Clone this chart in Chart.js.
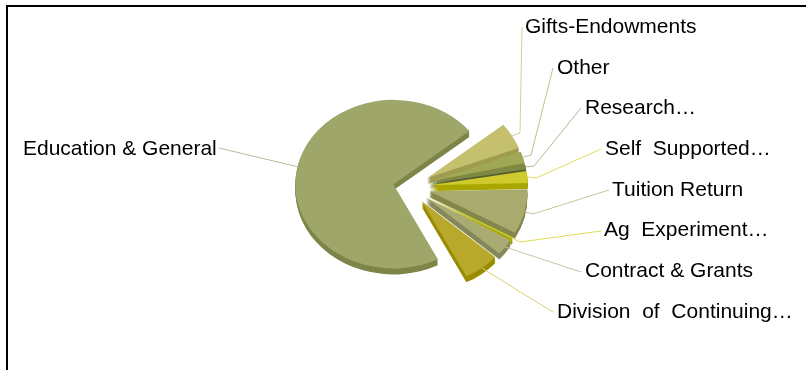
<!DOCTYPE html>
<html>
<head>
<meta charset="utf-8">
<style>html,body{margin:0;padding:0;background:#fff;overflow:hidden}canvas{display:block}</style>
<script src="https://cdn.jsdelivr.net/npm/chart.js@4"></script>
</head>
<body>
<canvas id="c" width="806" height="370"></canvas>
<script>
const categories = ["Education & General","Gifts-Endowments","Other","Research…","Self  Supported…","Tuition Return","Ag  Experiment…","Contract & Grants","Division  of  Continuing…"];
const shares = [72.0,5.1,2.2,0.9,2.3,8.6,0.3,3.1,6.0];

const topColors  = ["#9FA66A","#C4C06E","#A0A856","#7F8A48","#CFCB2E","#A8AA6E","#C8C820","#A8AC72","#B8A82C"];
const sideColors = ["#7E8548","#A09C50","#7F8840","#56602C","#AAA600","#85874C","#A8A600","#84885A","#9A8C00"];
const leaderColors = ["#B8BC98","#D2D09A","#BEC28E","#B4B890","#DEDC60","#C4C69A","#DEDC50","#C4C6A0","#D8D070"];
const explode = [16,21,21,21,21,21,21,21,21];
const labelAnchors = [[23,155],[525,33],[557,74],[585,114],[605,155],[612,196],[604,236],[585,277],[557,318]];
const leaderBends = [[[219,148]],[[520,133],[522,27]],[[531,155],[553,68]],[[534,166],[581,108]],[[536,178],[601,149]],[[533,214],[609,190]],[[520,242],[601,231]],[[581,272]],[[517,290],[553,312]]];

const SQUASH = 0.86, DEPTH = 6, CX = 409, CY = 187;

function place(chart){
  chart.getDatasetMeta(0).data.forEach((a,i)=>{
    const mid=(a.startAngle+a.endAngle)/2;
    a.x=CX+explode[i]*Math.cos(mid);
    a.y=CY+explode[i]*Math.sin(mid);
  });
}
const pie3d = {
  id:'pie3d',
  beforeDatasetsDraw(chart){
    const ctx=chart.ctx; place(chart);
    ctx.save();
    ctx.translate(0,CY); ctx.scale(1,SQUASH); ctx.translate(0,-CY);
    chart.getDatasetMeta(0).data.forEach((a,i)=>{
      ctx.fillStyle=sideColors[i];
      for(let d=DEPTH;d>=1;d--){
        const dy=d/SQUASH;
        ctx.beginPath();
        ctx.moveTo(a.x,a.y+dy);
        ctx.arc(a.x,a.y+dy,a.outerRadius,a.startAngle,a.endAngle);
        ctx.closePath();
        ctx.fill();
      }
    });
  },
  afterDatasetsDraw(chart){
    const ctx=chart.ctx;
    ctx.restore();
    ctx.save();
    ctx.fillStyle='#000';
    ctx.fillRect(6,5,800,2);
    ctx.fillRect(6,5,2,365);
    ctx.lineWidth=1;
    chart.getDatasetMeta(0).data.forEach((a,i)=>{
      const mid=(a.startAngle+a.endAngle)/2;
      const sx=a.x+a.outerRadius*Math.cos(mid);
      const sy=CY+(a.y+a.outerRadius*Math.sin(mid)-CY)*SQUASH;
      ctx.strokeStyle=leaderColors[i];
      ctx.beginPath();
      ctx.moveTo(sx,sy);
      leaderBends[i].forEach(p=>ctx.lineTo(p[0],p[1]));
      ctx.stroke();
    });
    ctx.fillStyle='#000';
    ctx.font='21px "Liberation Sans", Arial, sans-serif';
    ctx.textBaseline='alphabetic';
    ctx.textAlign='left';
    categories.forEach((t,i)=>{
      ctx.fillText(t,labelAnchors[i][0],labelAnchors[i][1]);
    });
    ctx.restore();
  }
};

new Chart(document.getElementById('c'),{
  type:'pie',
  data:{labels:categories,datasets:[{data:shares,backgroundColor:topColors,borderWidth:0,clip:false}]},
  options:{
    responsive:false,
    animation:false,
    events:[],
    rotation:153,
    radius:98,
    plugins:{legend:{display:false},tooltip:{enabled:false},title:{display:false}}
  },
  plugins:[pie3d]
});
</script>
</body>
</html>
